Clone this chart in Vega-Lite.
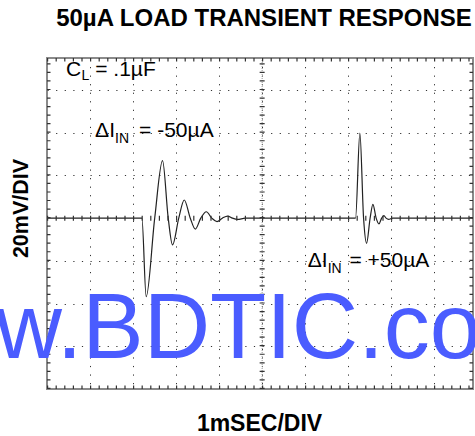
{
  "$schema": "https://vega.github.io/schema/vega-lite/v6.json",
  "width": 426,
  "height": 331,
  "autosize": {"type": "none"},
  "padding": {"left": 47, "top": 58, "right": 2, "bottom": 47},
  "background": "white",
  "title": {
    "text": "50µA LOAD TRANSIENT RESPONSE",
    "font": "Liberation Sans",
    "fontSize": 24,
    "fontWeight": "bold",
    "color": "#000",
    "anchor": "middle",
    "baseline": "alphabetic",
    "offset": 6,
    "dx": 4
  },
  "config": {
    "view": {"stroke": "#8a8a8a", "strokeWidth": 2},
    "text": {"font": "Liberation Sans"}
  },
  "layer": [
    {
      "data": {
        "values": [
          {"t": 0, "v": 0}, {"t": 2.205, "v": 0}, {"t": 2.305, "v": -36.8},
          {"t": 2.503, "v": 0}, {"t": 2.685, "v": 26.9}, {"t": 2.817, "v": 0},
          {"t": 2.917, "v": -12.5}, {"t": 3.062, "v": 0}, {"t": 3.19, "v": 8.5},
          {"t": 3.33, "v": 0}, {"t": 3.446, "v": -5.1}, {"t": 3.574, "v": 0},
          {"t": 3.702, "v": 3.0}, {"t": 3.83, "v": 0}, {"t": 3.951, "v": -1.6},
          {"t": 4.075, "v": 0}, {"t": 4.198, "v": 1.0}, {"t": 4.31, "v": 0},
          {"t": 4.424, "v": -0.6}, {"t": 4.61, "v": 0}, {"t": 7.17, "v": 0},
          {"t": 7.271, "v": 39.8}, {"t": 7.357, "v": 0}, {"t": 7.427, "v": -11.8},
          {"t": 7.509, "v": 0}, {"t": 7.574, "v": 6.5}, {"t": 7.649, "v": 0},
          {"t": 7.714, "v": -2.7}, {"t": 7.777, "v": 0}, {"t": 7.83, "v": 1.2},
          {"t": 7.88, "v": 0}, {"t": 7.939, "v": -0.6}, {"t": 8.033, "v": 0},
          {"t": 9.9, "v": 0}
        ]
      },
      "mark": {"type": "line", "color": "#222", "strokeWidth": 1.2, "interpolate": "monotone"},
      "encoding": {
        "x": {
          "field": "t", "type": "quantitative",
          "scale": {"domain": [0, 9.9], "nice": false, "zero": false},
          "axis": {
            "title": "1mSEC/DIV", "values": [1, 2, 3, 4, 5, 6, 7, 8, 9],
            "grid": true, "gridDash": [1.2, 7.34], "gridColor": "#333", "gridOpacity": 1,
            "ticks": false, "labels": false, "domain": false,
            "titleFont": "Liberation Sans", "titleFontSize": 23, "titleFontWeight": "bold", "titleColor": "#000",
            "titleBaseline": "alphabetic", "titleX": 212, "titleY": 41, "titleAlign": "center"
          }
        },
        "y": {
          "field": "v", "type": "quantitative",
          "scale": {"domain": [-80, 75], "nice": false, "zero": false},
          "axis": {
            "title": "20mV/DIV", "values": [-60, -40, -20, 20, 40, 60],
            "grid": true, "gridDash": [1.2, 7.4], "gridColor": "#333", "gridOpacity": 1,
            "ticks": false, "labels": false, "domain": false,
            "titleFont": "Liberation Sans", "titleFontSize": 21.5, "titleFontWeight": "bold", "titleColor": "#000",
            "titleAngle": -90, "titleAlign": "center", "titleBaseline": "alphabetic",
            "titleX": -20, "titleY": 150
          }
        }
      }
    },
    {
      "data": {"values": [{}]},
      "mark": {"type": "rule", "color": "#999", "strokeWidth": 1, "strokeDash": [1, 1]},
      "encoding": {"x": {"datum": 5}, "y": {"datum": -80}, "y2": {"datum": 75}}
    },
    {
      "data": {"values": [{}]},
      "mark": {"type": "rule", "color": "#333", "strokeWidth": 5, "strokeDash": [1.2, 7.34]},
      "encoding": {"x": {"datum": 5}, "y": {"datum": -80}, "y2": {"datum": 75}}
    },
    {
      "data": {"values": [{}]},
      "mark": {"type": "rule", "color": "#333", "strokeWidth": 5, "strokeDash": [1.2, 7.4]},
      "encoding": {"y": {"datum": 0}, "x": {"datum": 0}, "x2": {"datum": 9.9}}
    },
    {
      "data": {"values": [{}]},
      "mark": {"type": "rule", "color": "#333", "strokeWidth": 7, "strokeDash": [1.2, 7.34], "clip": true},
      "encoding": {"x": {"datum": 0}, "y": {"datum": -80}, "y2": {"datum": 75}}
    },
    {
      "data": {"values": [{}]},
      "mark": {"type": "rule", "color": "#333", "strokeWidth": 7, "strokeDash": [1.2, 7.34], "clip": true},
      "encoding": {"x": {"datum": 9.9}, "y": {"datum": -80}, "y2": {"datum": 75}}
    },
    {
      "data": {"values": [{}]},
      "mark": {"type": "rule", "color": "#333", "strokeWidth": 7, "strokeDash": [1.2, 7.4], "clip": true},
      "encoding": {"y": {"datum": 75}, "x": {"datum": 0}, "x2": {"datum": 9.9}}
    },
    {
      "data": {"values": [{}]},
      "mark": {"type": "rule", "color": "#333", "strokeWidth": 7, "strokeDash": [1.2, 7.4], "clip": true},
      "encoding": {"y": {"datum": -80}, "x": {"datum": 0}, "x2": {"datum": 9.9}}
    },
    {
      "data": {"values": [{}]},
      "mark": {"type": "text", "text": "C", "fontSize": 21, "align": "left", "baseline": "alphabetic", "color": "#000"},
      "encoding": {"x": {"datum": 0.442}, "y": {"datum": 66.6}}
    },
    {
      "data": {"values": [{}]},
      "mark": {"type": "text", "text": "L", "fontSize": 14, "align": "left", "baseline": "alphabetic", "color": "#000"},
      "encoding": {"x": {"datum": 0.803}, "y": {"datum": 64.7}}
    },
    {
      "data": {"values": [{}]},
      "mark": {"type": "text", "text": "= .1µF", "fontSize": 21, "align": "left", "baseline": "alphabetic", "color": "#000"},
      "encoding": {"x": {"datum": 1.12}, "y": {"datum": 66.6}}
    },
    {
      "data": {"values": [{}]},
      "mark": {"type": "text", "text": "ΔI", "fontSize": 21, "align": "left", "baseline": "alphabetic", "color": "#000"},
      "encoding": {"x": {"datum": 1.118}, "y": {"datum": 38.2}}
    },
    {
      "data": {"values": [{}]},
      "mark": {"type": "text", "text": "IN", "fontSize": 14, "align": "left", "baseline": "alphabetic", "color": "#000"},
      "encoding": {"x": {"datum": 1.583}, "y": {"datum": 35.2}}
    },
    {
      "data": {"values": [{}]},
      "mark": {"type": "text", "text": "= -50µA", "fontSize": 21, "align": "left", "baseline": "alphabetic", "color": "#000"},
      "encoding": {"x": {"datum": 2.14}, "y": {"datum": 38.2}}
    },
    {
      "data": {"values": [{}]},
      "mark": {"type": "text", "text": "ΔI", "fontSize": 21, "align": "left", "baseline": "alphabetic", "color": "#000"},
      "encoding": {"x": {"datum": 6.061}, "y": {"datum": -22.7}}
    },
    {
      "data": {"values": [{}]},
      "mark": {"type": "text", "text": "IN", "fontSize": 14, "align": "left", "baseline": "alphabetic", "color": "#000"},
      "encoding": {"x": {"datum": 6.523}, "y": {"datum": -25.5}}
    },
    {
      "data": {"values": [{}]},
      "mark": {"type": "text", "text": "= +50µA", "fontSize": 21, "align": "left", "baseline": "alphabetic", "color": "#000"},
      "encoding": {"x": {"datum": 7.03}, "y": {"datum": -22.7}}
    },
    {
      "data": {"values": [{}]},
      "mark": {"type": "text", "text": "www.BDTIC.com", "fontSize": 92, "align": "center", "baseline": "alphabetic", "color": "#4a5cff"},
      "encoding": {"x": {"datum": 3.79}, "y": {"datum": -65.5}}
    }
  ]
}
